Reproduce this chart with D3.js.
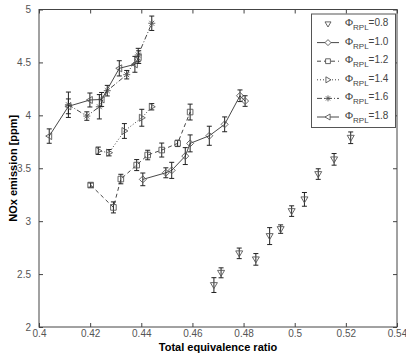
<!DOCTYPE html>
<html><head><meta charset="utf-8">
<script src="https://cdn.jsdelivr.net/npm/d3@7"></script>
<style>body{margin:0;background:#fff}svg{display:block}</style>
</head><body><div id="chart"></div>
<script>
const xTickVals = [0.4,0.42,0.44,0.46,0.48,0.5,0.52,0.54];
const xTickLabels = ["0.4","0.42","0.44","0.46","0.48","0.5","0.52","0.54"];
const yTickVals = [2,2.5,3,3.5,4,4.5,5];
const yTickLabels = ["2","2.5","3","3.5","4","4.5","5"];
const seriesLabels = ["0.8","1.0","1.2","1.4","1.6","1.8"];

const x08 = [0.4684,0.4712,0.4783,0.4848,0.4902,0.4945,0.4988,0.5038,0.5092,0.5154,0.5219];
const y08 = [2.396,2.512,2.696,2.639,2.859,2.925,3.095,3.206,3.445,3.584,3.788];
const e08 = [0.07,0.047,0.05,0.055,0.08,0.04,0.05,0.065,0.05,0.055,0.055];

const x10 = [0.4406,0.4496,0.4519,0.4572,0.4591,0.4666,0.4726,0.4786,0.4806];
const y10 = [3.395,3.457,3.480,3.615,3.735,3.807,3.915,4.185,4.135];
const e10 = [0.06,0.047,0.076,0.08,0.08,0.09,0.07,0.055,0.05];

const x12 = [0.4202,0.4291,0.4320,0.4382,0.4425,0.4480,0.4542,0.4591];
const y12 = [3.341,3.130,3.398,3.530,3.625,3.672,3.735,4.031];
const e12 = [0.02,0.052,0.045,0.052,0.045,0.066,0.03,0.075];

const x14 = [0.4232,0.4274,0.4334,0.4402,0.4441];
const y14 = [3.665,3.647,3.852,3.977,4.081];
const e14 = [0.035,0.03,0.07,0.08,0.03];

const x16 = [0.4115,0.4187,0.4236,0.4267,0.4343,0.4388,0.4441];
const y16 = [4.10,3.993,4.081,4.233,4.384,4.570,4.870];
const e16 = [0.12,0.04,0.115,0.05,0.04,0.063,0.068];

const x18 = [0.4040,0.4115,0.4199,0.4245,0.4314,0.4375,0.4390];
const y18 = [3.804,4.085,4.145,4.150,4.444,4.482,4.55];
const e18 = [0.068,0.07,0.066,0.066,0.072,0.075,0.06];

const W = 406, H = 355;
const m = {l:39, t:9.5, r:397, b:327};
const svg = d3.select("#chart").append("svg").attr("width",W).attr("height",H)
  .style("font-family","'Liberation Sans', Arial, sans-serif");

const x = d3.scaleLinear().domain([0.4,0.54]).range([m.l,m.r]);
const y = d3.scaleLinear().domain([2,5]).range([m.b,m.t]);

const axisColor = "#444";
svg.append("rect").attr("x",m.l).attr("y",m.t).attr("width",m.r-m.l).attr("height",m.b-m.t)
  .attr("fill","none").attr("stroke",axisColor).attr("stroke-width",1);

function styleAxis(g){ g.select(".domain").remove(); g.selectAll("line").attr("stroke",axisColor);
  g.selectAll("text").attr("fill","#555").style("font-size","10px"); }

svg.append("g").attr("transform",`translate(0,${m.b})`)
  .call(d3.axisBottom(x).tickValues(xTickVals).tickFormat((d,i)=>xTickLabels[i]).tickSizeInner(-4).tickPadding(3))
  .call(styleAxis);
svg.append("g").attr("transform",`translate(0,${m.t})`)
  .call(d3.axisTop(x).tickValues(xTickVals).tickFormat("").tickSizeInner(-4)).call(styleAxis);
svg.append("g").attr("transform",`translate(${m.l},0)`)
  .call(d3.axisLeft(y).tickValues(yTickVals).tickFormat((d,i)=>yTickLabels[i]).tickSizeInner(-4).tickPadding(8))
  .call(styleAxis);
svg.append("g").attr("transform",`translate(${m.r},0)`)
  .call(d3.axisRight(y).tickValues(yTickVals).tickFormat("").tickSizeInner(-4)).call(styleAxis);

svg.append("text").attr("x",(m.l+m.r)/2).attr("y",351).attr("text-anchor","middle")
  .style("font-size","11px").style("font-weight","bold").text("Total equivalence ratio");
svg.append("text").attr("transform",`translate(17,${(m.t+m.b)/2}) rotate(-90)`).attr("text-anchor","middle")
  .style("font-size","11px").style("font-weight","bold").text("NOx emission [ppm]");

const series = [
  {xs:x08, ys:y08, es:e08, marker:"tridown", dash:null},
  {xs:x10, ys:y10, es:e10, marker:"diamond", dash:""},
  {xs:x12, ys:y12, es:e12, marker:"square", dash:"4,3"},
  {xs:x14, ys:y14, es:e14, marker:"triright", dash:"1,2"},
  {xs:x16, ys:y16, es:e16, marker:"star", dash:"5,2,1,2"},
  {xs:x18, ys:y18, es:e18, marker:"trileft", dash:""}
];

function markerPath(type, r){
  const p = d3.path();
  if(type==="tridown"){ p.moveTo(-r,-r*0.7); p.lineTo(r,-r*0.7); p.lineTo(0,r); p.closePath(); }
  else if(type==="diamond"){ p.moveTo(0,-r); p.lineTo(r,0); p.lineTo(0,r); p.lineTo(-r,0); p.closePath(); }
  else if(type==="square"){ const s=r*0.8; p.rect(-s,-s,2*s,2*s); }
  else if(type==="triright"){ p.moveTo(-r*0.7,-r); p.lineTo(r,0); p.lineTo(-r*0.7,r); p.closePath(); }
  else if(type==="trileft"){ p.moveTo(r*0.7,-r); p.lineTo(-r,0); p.lineTo(r*0.7,r); p.closePath(); }
  else if(type==="star"){ p.moveTo(-r,0); p.lineTo(r,0); p.moveTo(-r*0.7,-r*0.7); p.lineTo(r*0.7,r*0.7);
    p.moveTo(-r*0.7,r*0.7); p.lineTo(r*0.7,-r*0.7); p.moveTo(0,-r); p.lineTo(0,r); }
  return p.toString();
}

const plot = svg.append("g");
series.forEach(s=>{
  const pts = s.xs.map((xv,i)=>({x:xv,y:s.ys[i],e:s.es[i]}));
  if(s.dash!==null){
    plot.append("path").datum(pts).attr("fill","none").attr("stroke","#333").attr("stroke-width",0.9)
      .attr("stroke-dasharray",s.dash||null)
      .attr("d",d3.line().x(d=>x(d.x)).y(d=>y(d.y)));
  }
  const g = plot.append("g");
  pts.forEach(d=>{
    const cx=x(d.x), y1=y(d.y+d.e), y2=y(d.y-d.e);
    g.append("line").attr("x1",cx).attr("x2",cx).attr("y1",y1).attr("y2",y2).attr("stroke","#222").attr("stroke-width",1);
    g.append("line").attr("x1",cx-2.5).attr("x2",cx+2.5).attr("y1",y1).attr("y2",y1).attr("stroke","#222").attr("stroke-width",1);
    g.append("line").attr("x1",cx-2.5).attr("x2",cx+2.5).attr("y1",y2).attr("y2",y2).attr("stroke","#222").attr("stroke-width",1);
    g.append("path").attr("transform",`translate(${cx},${y(d.y)})`).attr("d",markerPath(s.marker,3.5))
      .attr("fill","none").attr("stroke","#555").attr("stroke-width",0.9);
  });
});

const lg = svg.append("g");
lg.append("rect").attr("x",311.5).attr("y",14).attr("width",84).attr("height",113.5)
  .attr("fill","#fff").attr("stroke","#555").attr("stroke-width",1);
const rowY = d3.scaleLinear().domain([0,5]).range([24,117]);
series.forEach((s,i)=>{
  const yy = rowY(i);
  if(s.dash!==null){
    lg.append("line").attr("x1",317).attr("x2",339).attr("y1",yy).attr("y2",yy)
      .attr("stroke","#333").attr("stroke-width",0.9).attr("stroke-dasharray",s.dash||null);
  }
  lg.append("path").attr("transform",`translate(328,${yy})`).attr("d",markerPath(s.marker,3))
    .attr("fill", s.dash!==null ? "#fff" : "none").attr("stroke","#555").attr("stroke-width",0.9);
  const t = lg.append("text").attr("x",345).attr("y",yy+2).style("font-size","10px").attr("fill","#444");
  t.append("tspan").style("font-family","'Liberation Serif', serif").style("font-size","11px").text("Φ");
  t.append("tspan").attr("dy",4).style("font-size","8px").text("RPL");
  t.append("tspan").attr("dy",-4).text("=" + seriesLabels[i]);
});
</script></body></html>
